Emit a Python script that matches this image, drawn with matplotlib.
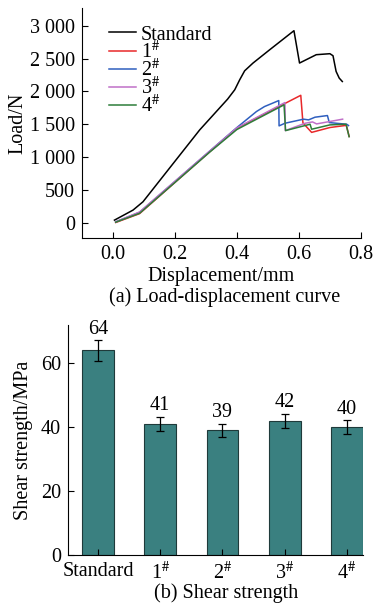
import matplotlib
matplotlib.use('Agg')
import matplotlib.pyplot as plt
from matplotlib.ticker import FuncFormatter

plt.rcParams['font.family'] = ['Liberation Serif', 'DejaVu Serif']
plt.rcParams['mathtext.fontset'] = 'stix'
plt.rcParams['font.size'] = 14.5

# load-displacement curves
std_x = [0.005, 0.065, 0.097, 0.2, 0.28, 0.37, 0.393, 0.409, 0.425, 0.452, 0.506,
         0.584, 0.602, 0.656, 0.70, 0.71, 0.72, 0.73, 0.74]
std_y = [41, 194, 320, 936, 1414, 1882, 2024, 2176, 2313, 2431, 2634,
         2923, 2431, 2558, 2573, 2542, 2303, 2202, 2150]

s1_x = [0.009, 0.086, 0.312, 0.4, 0.606, 0.613, 0.641, 0.70, 0.753, 0.762]
s1_y = [5, 140, 1080, 1440, 1940, 1520, 1376, 1450, 1483, 1315]

s2_x = [0.009, 0.086, 0.312, 0.40, 0.463, 0.489, 0.515, 0.535, 0.536, 0.555,
        0.615, 0.631, 0.652, 0.692, 0.698, 0.754, 0.76]
s2_y = [15, 160, 1090, 1450, 1693, 1769, 1820, 1860, 1475, 1515,
        1577, 1566, 1607, 1632, 1525, 1500, 1480]

s3_x = [0.009, 0.086, 0.312, 0.4, 0.555, 0.556, 0.62, 0.644, 0.657, 0.741]
s3_y = [15, 165, 1090, 1445, 1830, 1403, 1515, 1535, 1505, 1577]

s4_x = [0.009, 0.086, 0.312, 0.4, 0.552, 0.557, 0.636, 0.641, 0.70, 0.752, 0.762]
s4_y = [10, 145, 1075, 1420, 1795, 1403, 1500, 1424, 1490, 1500, 1310]

# shear strength
samples = ['Standard', r'1$^{\#}$', r'2$^{\#}$', r'3$^{\#}$', r'4$^{\#}$']
strength = [64, 41, 39, 42, 40]
strength_err = [3.2, 2.2, 2.0, 2.2, 2.1]

fig = plt.figure(figsize=(3.74, 6.07), dpi=100)

# (a) curves
ax1 = fig.add_axes([0.219, 0.608, 0.746, 0.379])
ax1.plot(std_x, std_y, color='black', lw=1.1, label='Standard')
ax1.plot(s1_x, s1_y, color='#e8282a', lw=1.1, label=samples[1])
ax1.plot(s2_x, s2_y, color='#2f5fbf', lw=1.1, label=samples[2])
ax1.plot(s3_x, s3_y, color='#c070c8', lw=1.1, label=samples[3])
ax1.plot(s4_x, s4_y, color='#2e7d3a', lw=1.1, label=samples[4])
ax1.set_xlim(-0.1, 0.8)
ax1.set_ylim(-230, 3270)
ax1.set_xticks([0.0, 0.2, 0.4, 0.6, 0.8])
ax1.set_yticks(range(0, 3001, 500))
ax1.yaxis.set_major_formatter(FuncFormatter(lambda v, p: f'{int(v):,}'.replace(',', ' ')))
ax1.spines['top'].set_visible(False)
ax1.spines['right'].set_visible(False)
ax1.tick_params(direction='in', length=4, width=0.8, pad=5)
ax1.set_xlabel('Displacement/mm', labelpad=2)
ax1.set_ylabel('Load/N', labelpad=2)
ax1.legend(loc='upper left', bbox_to_anchor=(0.045, 0.985), frameon=False,
           handlelength=1.35, handletextpad=0.25, labelspacing=-0.2,
           borderpad=0.2)
fig.text(0.6, 0.511, '(a) Load-displacement curve', ha='center', va='center')

# (b) bars
ax2 = fig.add_axes([0.182, 0.0857, 0.789, 0.379])
pos = list(range(len(samples)))
ax2.bar(pos, strength, width=0.51, color='#3a8080', edgecolor='#1f3a3a', lw=0.8,
        yerr=strength_err, capsize=3, error_kw={'elinewidth': 0.9, 'capthick': 0.9})
for i, v in enumerate(strength):
    ax2.text(pos[i], v + strength_err[i] + 0.5, str(v), ha='center', va='bottom')
ax2.set_xlim(-0.48, 4.26)
ax2.set_ylim(0, 72)
ax2.set_yticks([0, 20, 40, 60])
ax2.set_xticks(pos)
ax2.set_xticklabels(samples)
ax2.spines['top'].set_visible(False)
ax2.spines['right'].set_visible(False)
ax2.tick_params(direction='in', length=4, width=0.8, pad=5)
ax2.set_ylabel('Shear strength/MPa', labelpad=6)
fig.text(0.605, 0.023, '(b) Shear strength', ha='center', va='center')

fig.savefig('out.png', dpi=100)
